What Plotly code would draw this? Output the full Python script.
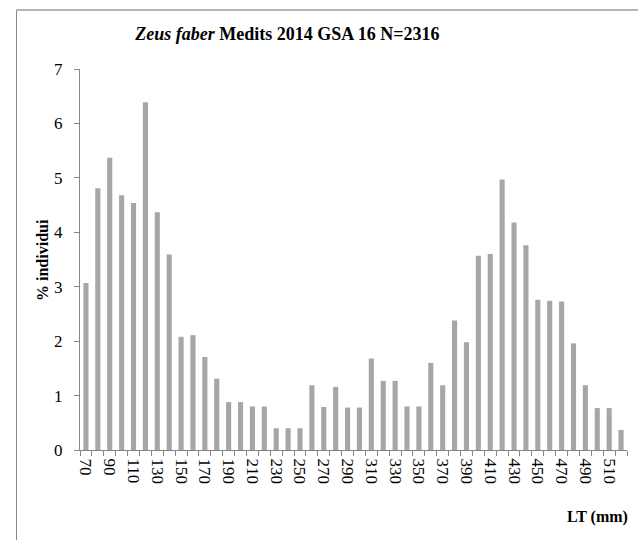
import plotly.graph_objects as go

lengths = list(range(70, 530, 10))
percent = [3.07, 4.81, 5.37, 4.68, 4.54, 6.39, 4.37, 3.59, 2.08, 2.11,
           1.71, 1.31, 0.88, 0.88, 0.80, 0.80, 0.40, 0.40, 0.40, 1.19,
           0.79, 1.16, 0.78, 0.78, 1.68, 1.27, 1.27, 0.80, 0.80, 1.60,
           1.19, 2.38, 1.98, 3.57, 3.60, 4.97, 4.18, 3.76, 2.76, 2.74,
           2.73, 1.96, 1.19, 0.77, 0.77, 0.37]
label_ticks = list(range(70, 520, 20))

FONT = "Liberation Serif"
W, H = 638, 540
L, R, T, B = 80, 627, 69, 450

def px_x(p):
    return (p - L) / (R - L)

def px_y(p):
    return (B - p) / (B - T)

fig = go.Figure(go.Bar(x=lengths, y=percent, marker_color="#A6A6A6",
                       marker_line_width=0, width=4.3))

fig.update_layout(
    width=W, height=H,
    margin=dict(l=L, r=W - R, t=T, b=H - B),
    plot_bgcolor="white", paper_bgcolor="white",
    font=dict(family=FONT, size=17, color="black"),
    showlegend=False,
    title=dict(text="<b><i>Zeus faber</i> Medits 2014 GSA 16 N=2316</b>",
               font=dict(family=FONT, size=18, color="black"),
               x=287.5 / W, xref="container", xanchor="center",
               y=1 - 34 / H, yref="container", yanchor="middle"),
    xaxis=dict(range=[65, 525], tickvals=label_ticks,
               ticktext=[str(v) for v in label_ticks],
               tickangle=90, ticks="", showgrid=False, zeroline=False,
               showline=True, linecolor="#868686", linewidth=1,
               ticklabelstandoff=4,
               tickfont=dict(family=FONT, size=17, color="black"),
               minor=dict(tick0=65, dtick=10, ticks="outside", ticklen=5,
                          tickcolor="#868686", showgrid=False)),
    yaxis=dict(range=[0, 7], dtick=1, ticks="outside", ticklen=5,
               tickcolor="#868686", showgrid=False, zeroline=False,
               showline=True, linecolor="#868686", linewidth=1,
               ticklabelstandoff=8,
               tickfont=dict(family=FONT, size=17, color="black")),
    shapes=[
        dict(type="rect", xref="paper", yref="paper",
             x0=px_x(16), x1=px_x(17), y0=px_y(9), y1=px_y(545),
             line=dict(width=0), fillcolor="#868686", layer="above"),
    ],
    annotations=[
        dict(text="<b>% individui</b>", xref="paper", yref="paper",
             x=px_x(42), y=px_y(260), textangle=-90, showarrow=False,
             xanchor="center", yanchor="middle",
             font=dict(family=FONT, size=16, color="black")),
        dict(text="<b>LT (mm)</b>", xref="paper", yref="paper",
             x=px_x(630), y=px_y(517), showarrow=False,
             xanchor="right", yanchor="middle",
             font=dict(family=FONT, size=16, color="black")),
    ],
)

post = (
    "document.body.style.margin='0';"
    "var d=document.createElement('div');"
    "d.style.cssText='position:absolute;left:16px;top:9px;width:622px;"
    "height:2px;background:#B4B4B4;z-index:10;pointer-events:none';"
    "document.body.appendChild(d);"
)

fig.write_html("out.html", config={"displayModeBar": False}, post_script=post)
